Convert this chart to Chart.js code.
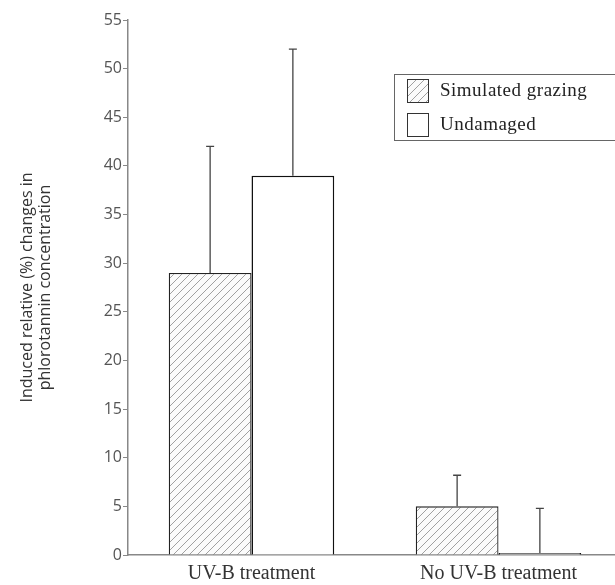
<!DOCTYPE html>
<html>
<head>
<meta charset="utf-8">
<script src="https://cdn.jsdelivr.net/npm/chart.js@4.4.1/dist/chart.umd.min.js"></script>
<style>
  html, body { margin: 0; padding: 0; background: #fff; overflow: hidden; }
  #wrap { width: 615px; height: 585px; overflow: hidden; }
</style>
</head>
<body>
<div id="wrap"><canvas id="c" width="622" height="585"></canvas></div>
<script>
/* donnees */
const categories   = ['UV-B treatment', 'No UV-B treatment'];
const seriesNames  = ['Simulated grazing', 'Undamaged'];
const grazingVals  = [29, 5];
const grazingErr   = [13, 3.2];
const undamagedVals = [39, 0.2];
const undamagedErr  = [13, 4.6];
const yTicks = [0, 5, 10, 15, 20, 25, 30, 35, 40, 45, 50, 55];

/* motif hachure "////" */
function hatch() {
  const p = document.createElement('canvas');
  p.width = 8; p.height = 8;
  const g = p.getContext('2d');
  g.fillStyle = '#fbfbfb'; g.fillRect(0, 0, 8, 8);
  g.strokeStyle = '#8a8a8a'; g.lineWidth = 0.8;
  g.beginPath();
  g.moveTo(0, 8); g.lineTo(8, 0);
  g.moveTo(-1, 1); g.lineTo(1, -1);
  g.moveTo(7, 9); g.lineTo(9, 7);
  g.stroke();
  return g.createPattern(p, 'repeat');
}
const ctx = document.getElementById('c').getContext('2d');
const hatchFill = hatch();

/* barres d'erreur (vers le haut seulement) */
const errorBars = {
  id: 'errorBars',
  afterDatasetsDraw(chart) {
    const c = chart.ctx, y = chart.scales.y;
    const errs = [grazingErr, undamagedErr];
    c.save();
    c.strokeStyle = '#444'; c.lineWidth = 1.3;
    chart.data.datasets.forEach((ds, i) => {
      chart.getDatasetMeta(i).data.forEach((bar, j) => {
        const top = y.getPixelForValue(ds.data[j] + errs[i][j]);
        c.beginPath();
        c.moveTo(bar.x, bar.y); c.lineTo(bar.x, top);
        c.moveTo(bar.x - 4, top); c.lineTo(bar.x + 4, top);
        c.stroke();
      });
    });
    c.restore();
  }
};

/* legende encadree dans la zone du graphe */
const boxLegend = {
  id: 'boxLegend',
  afterDraw(chart) {
    const c = chart.ctx;
    c.save();
    c.strokeStyle = '#666'; c.lineWidth = 1;
    c.strokeRect(394.5, 74.5, 236, 66);
    chart.data.datasets.forEach((ds, i) => {
      const yy = 79 + i * 34;
      c.fillStyle = ds.backgroundColor;
      c.fillRect(407, yy, 21, 23);
      c.strokeStyle = '#333';
      c.strokeRect(407.5, yy + 0.5, 21, 23);
      c.fillStyle = '#222';
      c.font = '19px "Liberation Serif"';
      c.letterSpacing = '0.5px';
      c.textBaseline = 'middle';
      c.fillText(ds.label, 440, yy + 12);
    });
    c.restore();
  }
};

new Chart(ctx, {
  type: 'bar',
  data: {
    labels: categories,
    datasets: [
      { label: seriesNames[0], data: grazingVals, backgroundColor: hatchFill,
        borderColor: '#222', borderWidth: 1.3 },
      { label: seriesNames[1], data: undamagedVals, backgroundColor: '#ffffff',
        borderColor: '#111', borderWidth: 1.5 }
    ]
  },
  plugins: [errorBars, boxLegend],
  options: {
    responsive: false,
    animation: false,
    layout: { padding: { top: 20, right: 0, bottom: 0, left: 0 } },
    datasets: { bar: { barPercentage: 1, categoryPercentage: 0.67 } },
    plugins: { legend: { display: false }, tooltip: { enabled: false } },
    scales: {
      x: {
        grid: { display: false },
        border: { color: '#888', width: 1.5 },
        ticks: { color: '#333', font: { family: 'Liberation Serif', size: 20, lineHeight: 1.1 }, padding: 0 }
      },
      y: {
        min: 0, max: 55,
        afterBuildTicks: s => { s.ticks = yTicks.map(v => ({ value: v })); },
        afterFit: s => { s.width = 128; },
        grid: { drawOnChartArea: false, drawTicks: true, tickLength: 5, color: '#888' },
        border: { color: '#888', width: 1.5 },
        ticks: { color: '#555', font: { family: 'Open Sans', size: 16 }, padding: 1 },
        title: {
          display: true,
          text: ['Induced relative (%) changes in', 'phlorotannin concentration'],
          color: '#333',
          font: { family: 'Open Sans', size: 16, lineHeight: 1.15 },
          padding: { top: 18, bottom: 0 }
        }
      }
    }
  }
});
</script>
</body>
</html>
